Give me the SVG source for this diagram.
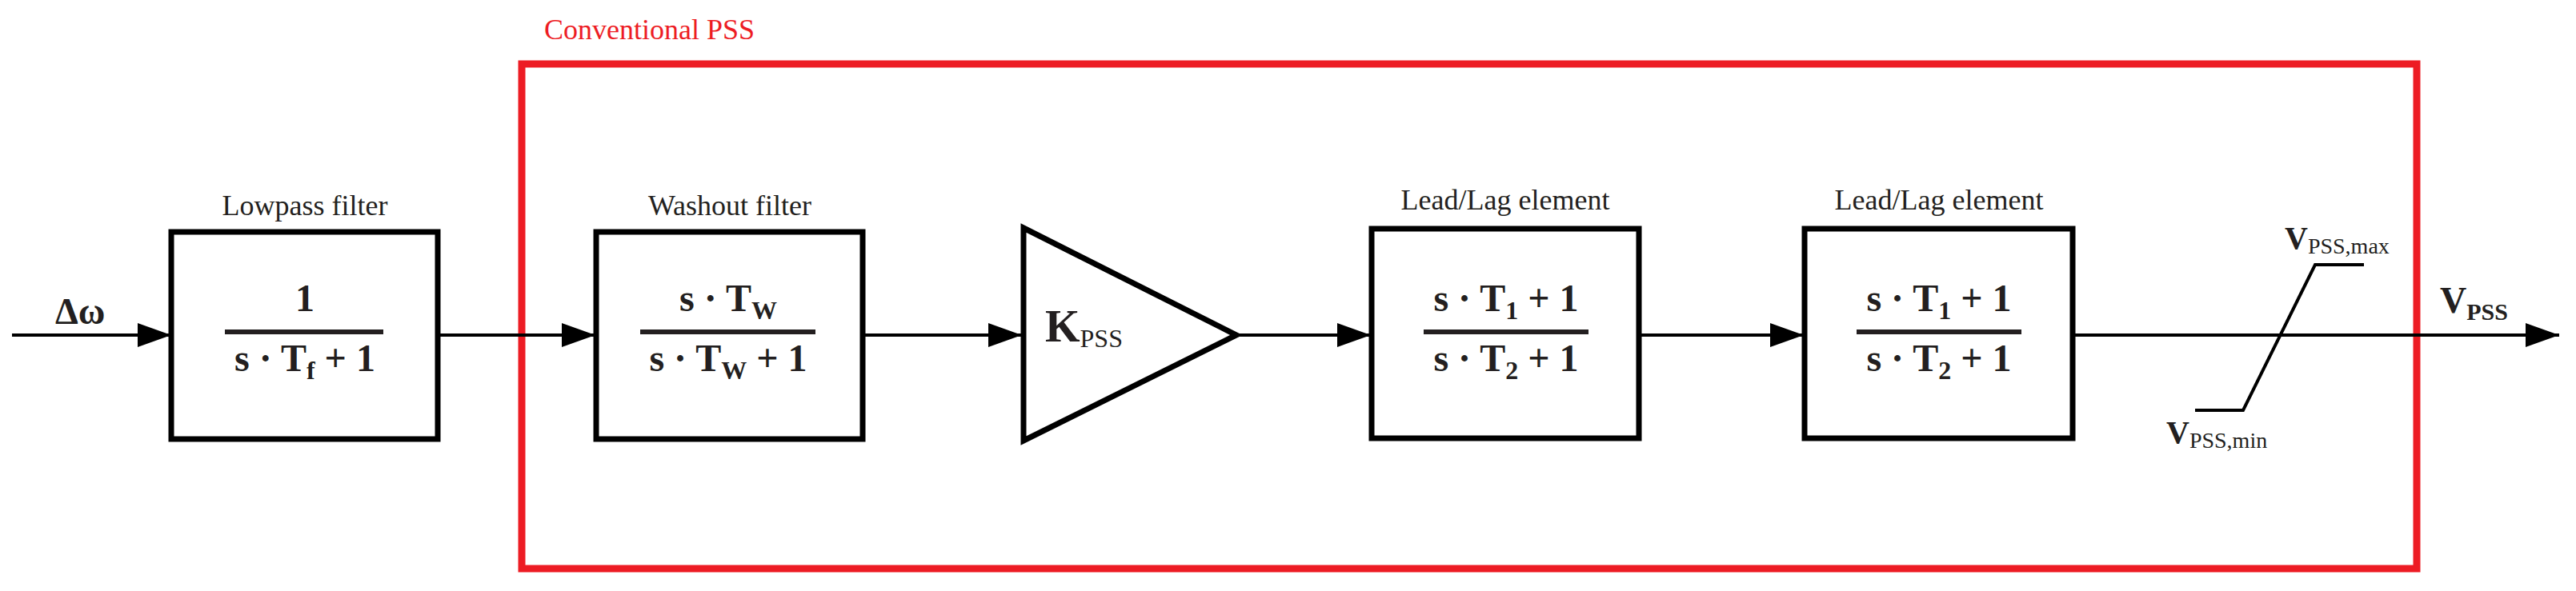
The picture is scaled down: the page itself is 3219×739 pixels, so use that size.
<svg xmlns="http://www.w3.org/2000/svg" width="3219" height="739" viewBox="0 0 3219 739">
<style>
text{font-family:"Liberation Serif","Times New Roman",serif;fill:#231f20}
.lbl{font-size:36px}
.f{font-size:48px;font-weight:bold;text-anchor:middle}
.sub{font-size:32px}
.blk{fill:#fff;stroke:#000;stroke-width:7}
.ln{stroke:#000;stroke-width:4;fill:none}
.bar{stroke:#231f20;stroke-width:6}
</style>
<defs>
<marker id="ah" markerWidth="42" markerHeight="30" refX="42" refY="15" markerUnits="userSpaceOnUse" orient="auto"><path d="M0,0 L42,15 L0,30 Z" fill="#000"/></marker>
</defs>
<g id="pss-frame">
<rect x="652" y="80" width="2368" height="631" fill="none" stroke="#ed1c24" stroke-width="9"/>
<text x="680" y="49" style="font-size:36px;fill:#ed1c24">Conventional PSS</text>
</g>
<g id="connectors">
<line class="ln" x1="15" y1="419" x2="214" y2="419" marker-end="url(#ah)"/>
<line class="ln" x1="547" y1="419" x2="744" y2="419" marker-end="url(#ah)"/>
<line class="ln" x1="1078" y1="419" x2="1277" y2="419" marker-end="url(#ah)"/>
<line class="ln" x1="1545" y1="419" x2="1713" y2="419" marker-end="url(#ah)"/>
<line class="ln" x1="2048" y1="419" x2="2254" y2="419" marker-end="url(#ah)"/>
<line class="ln" x1="2590" y1="419" x2="3198" y2="419" marker-end="url(#ah)"/>
</g>
<g id="input"><text x="69" y="405" style="font-size:46px;font-weight:bold">Δω</text></g>
<g id="lowpass">
<text class="lbl" x="381" y="269" text-anchor="middle">Lowpass filter</text>
<rect class="blk" x="214" y="290" width="333" height="259"/>
<text class="f" x="381" y="389">1</text>
<line class="bar" x1="281" y1="415" x2="479" y2="415"/>
<text class="f" x="381" y="464">s · T<tspan class="sub" dy="10">f</tspan><tspan dy="-10"> + 1</tspan></text>
</g>
<g id="washout">
<text class="lbl" x="912" y="269" text-anchor="middle">Washout filter</text>
<rect class="blk" x="745" y="290" width="333" height="259"/>
<text class="f" x="910" y="389">s · T<tspan class="sub" dy="10">W</tspan></text>
<line class="bar" x1="800" y1="415" x2="1019" y2="415"/>
<text class="f" x="910" y="464">s · T<tspan class="sub" dy="10">W</tspan><tspan dy="-10"> + 1</tspan></text>
</g>
<g id="gain">
<path d="M1279,285 L1545,419 L1279,551 Z" fill="#fff" stroke="#000" stroke-width="7" stroke-linejoin="miter"/>
<text x="1306" y="427" style="font-size:56px;font-weight:bold">K<tspan class="sub" dy="7" style="font-weight:normal">PSS</tspan></text>
</g>
<g id="leadlag1">
<text class="lbl" x="1881" y="262" text-anchor="middle">Lead/Lag element</text>
<rect class="blk" x="1714" y="286" width="334" height="262"/>
<text class="f" x="1882" y="389">s · T<tspan class="sub" dy="10">1</tspan><tspan dy="-10"> + 1</tspan></text>
<line class="bar" x1="1779" y1="415" x2="1985" y2="415"/>
<text class="f" x="1882" y="464">s · T<tspan class="sub" dy="10">2</tspan><tspan dy="-10"> + 1</tspan></text>
</g>
<g id="leadlag2">
<text class="lbl" x="2423" y="262" text-anchor="middle">Lead/Lag element</text>
<rect class="blk" x="2255" y="286" width="335" height="262"/>
<text class="f" x="2423" y="389">s · T<tspan class="sub" dy="10">1</tspan><tspan dy="-10"> + 1</tspan></text>
<line class="bar" x1="2320" y1="415" x2="2526" y2="415"/>
<text class="f" x="2423" y="464">s · T<tspan class="sub" dy="10">2</tspan><tspan dy="-10"> + 1</tspan></text>
</g>
<g id="limiter">
<polyline points="2743,513 2803,513 2893,331 2954,331" fill="none" stroke="#000" stroke-width="4"/>
<text x="2855" y="311" style="font-size:40px;font-weight:bold">V<tspan class="sub" dy="6" style="font-weight:normal;font-size:28px">PSS,max</tspan></text>
<text x="2707" y="554" style="font-size:40px;font-weight:bold">V<tspan class="sub" dy="6" style="font-weight:normal;font-size:28px">PSS,min</tspan></text>
</g>
<g id="output">
<text x="3049" y="391" style="font-size:46px;font-weight:bold">V<tspan class="sub" dy="9" style="font-size:30px">PSS</tspan></text>
</g>
</svg>
